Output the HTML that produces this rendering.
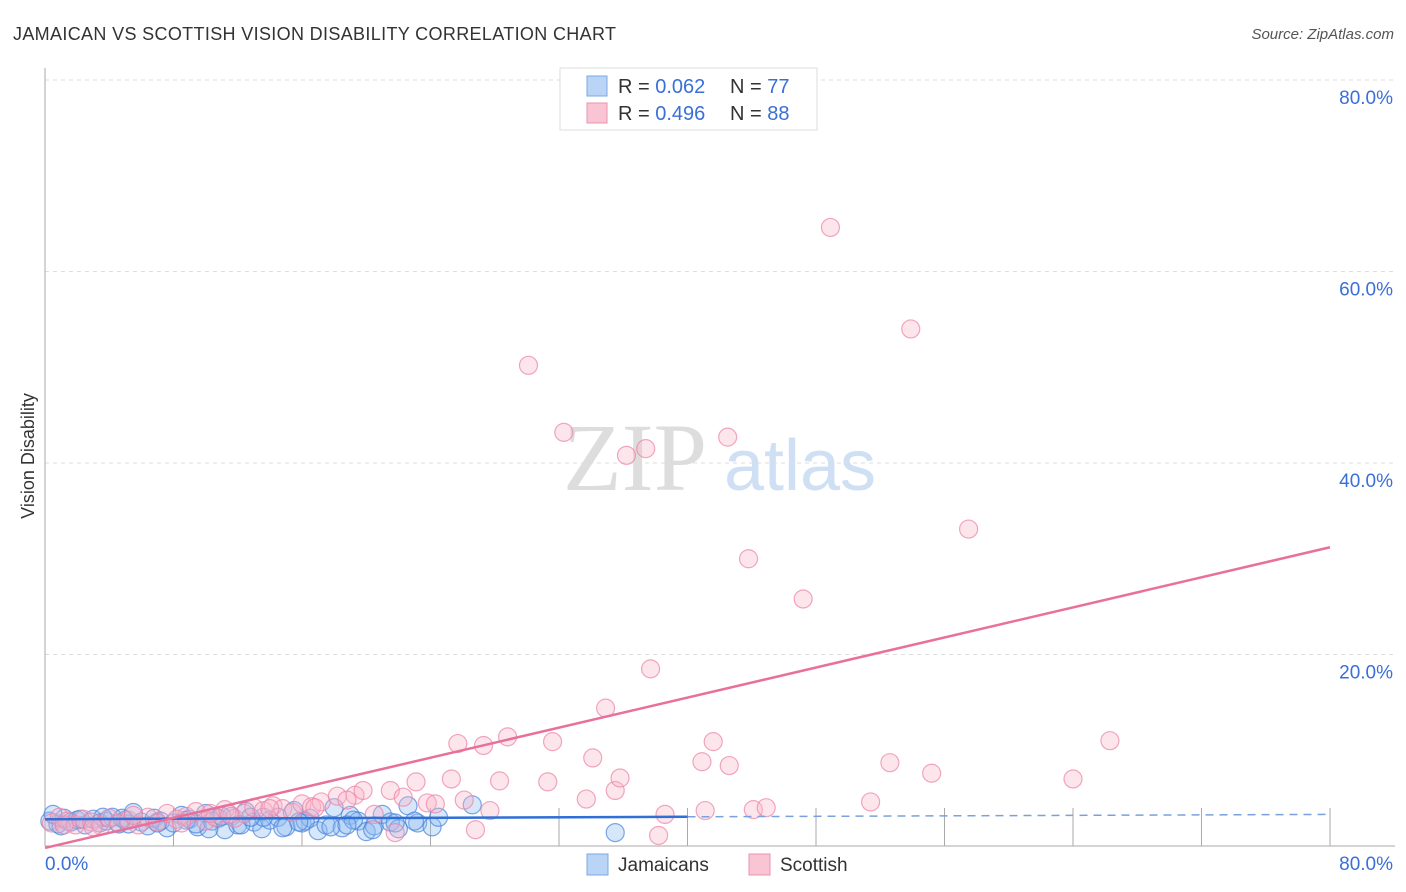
<!DOCTYPE html>
<html><head><meta charset="utf-8">
<style>
body{margin:0;background:#fff;font-family:"Liberation Sans",sans-serif;}
#wrap{position:relative;width:1406px;height:892px;overflow:hidden;}
</style></head>
<body>
<div id="wrap">
<svg id="svg" width="1406" height="892" xmlns="http://www.w3.org/2000/svg">
<text x="13" y="40" font-size="18" fill="#333" textLength="603">JAMAICAN VS SCOTTISH VISION DISABILITY CORRELATION CHART</text>
<text x="1394" y="39" font-size="15" fill="#555" font-style="italic" text-anchor="end">Source: ZipAtlas.com</text>
<text transform="translate(34,456) rotate(-90)" font-size="18" fill="#333" text-anchor="middle">Vision Disability</text>
<g>
<text x="635" y="490" font-size="96" fill="#ddd" font-family="Liberation Serif,serif" text-anchor="middle">ZIP</text>
<text x="800" y="490" font-size="72" fill="#cfe0f5" text-anchor="middle">atlas</text>
</g>
<g id="grid"></g>
<g id="axes"></g>
<g id="pts"></g>
<g id="trends"></g>
<g>
<rect x="560" y="68" width="257" height="62" fill="#fff" stroke="#ddd"/>
<rect x="587" y="76" width="20" height="20" fill="#b9d4f5" stroke="#7aa8e6"/>
<rect x="587" y="103" width="20" height="20" fill="#f9c4d3" stroke="#eb93ad"/>
<text x="618" y="93" font-size="20" fill="#333">R = <tspan fill="#3a6fd8">0.062</tspan></text>
<text x="730" y="93" font-size="20" fill="#333">N = <tspan fill="#3a6fd8">77</tspan></text>
<text x="618" y="120" font-size="20" fill="#333">R = <tspan fill="#3a6fd8">0.496</tspan></text>
<text x="730" y="120" font-size="20" fill="#333">N = <tspan fill="#3a6fd8">88</tspan></text>
</g>
<g>
<rect x="587" y="854" width="21" height="21" fill="#b9d4f5" stroke="#7aa8e6"/>
<text x="618" y="871" font-size="19" fill="#333">Jamaicans</text>
<rect x="749" y="854" width="21" height="21" fill="#f9c4d3" stroke="#eb93ad"/>
<text x="780" y="871" font-size="19" fill="#333">Scottish</text>
</g>
</svg>
</div>
<script>
const jamX=[0.3,0.8,1.2,1.6,2.0,2.5,3.0,3.4,3.8,4.2,4.6,5.0,5.5,6.0,6.4,6.8,7.2,7.6,8.0,8.5,9.0,9.5,10.0,10.4,10.8,11.2,11.6,12.0,12.5,13.0,13.5,14.0,14.5,15.0,15.5,16.0,16.5,17.0,17.5,18.0,18.5,19.0,19.5,20.0,20.5,21.0,21.5,22.0,22.6,23.2,24.1,24.5,26.6,35.5,1.0,2.2,3.6,5.2,7.0,8.8,10.2,11.0,12.2,13.6,14.8,16.2,17.8,19.2,20.4,21.8,23.0,4.8,9.4,12.8,15.8,18.8,0.5];
const jamY=[2.6,2.3,2.9,2.5,2.7,2.2,2.8,2.4,2.6,3.0,2.3,2.7,3.5,2.5,2.1,2.9,2.6,1.9,2.4,3.2,2.8,2.0,3.4,2.6,2.9,1.7,3.1,2.2,3.6,2.5,1.8,2.7,3.0,2.0,3.7,2.4,2.9,1.6,2.2,4.0,1.9,3.2,2.6,1.5,2.1,3.3,2.5,1.8,4.2,2.4,2.0,3.0,4.3,1.4,2.1,2.8,3.0,2.3,2.4,2.7,1.8,3.1,2.2,3.0,1.9,2.6,2.0,2.7,1.7,2.4,2.6,2.9,2.3,3.0,2.5,2.2,3.3];
const scoX=[0.4,0.9,1.4,1.9,2.4,2.9,3.5,4.0,4.6,5.2,5.8,6.4,7.0,7.6,8.2,8.8,9.4,10.0,10.6,11.2,11.8,12.4,13.0,13.6,14.2,14.8,15.4,16.0,16.6,17.2,18.2,19.3,19.8,21.5,22.3,23.1,23.8,24.3,21.8,26.8,25.3,26.1,27.7,25.7,27.3,28.8,28.3,31.3,31.6,30.1,32.3,33.7,34.1,35.5,35.8,34.9,36.2,37.4,37.7,38.6,38.2,41.1,40.9,41.6,42.5,42.6,43.8,44.1,44.9,47.2,48.9,51.4,52.6,53.9,55.2,57.5,64.0,66.3,1.2,3.0,5.5,8.5,11.5,14.0,16.8,18.8,20.5,10.3];
const scoY=[2.4,3.0,2.6,2.2,2.8,2.5,2.1,2.9,2.4,2.7,2.2,3.0,2.5,3.4,2.8,3.1,3.6,2.6,3.0,3.8,2.9,3.4,4.0,3.7,4.2,3.9,3.5,4.4,4.1,4.6,5.2,5.3,5.8,5.8,5.1,6.7,4.5,4.4,1.4,1.7,7.0,4.8,3.7,10.7,10.5,11.4,6.8,6.7,10.9,50.2,43.2,4.9,9.2,5.8,7.1,14.4,40.8,41.5,18.5,3.3,1.1,3.7,8.8,10.9,42.7,8.4,30.0,3.8,4.0,25.8,64.6,4.6,8.7,54.0,7.6,33.1,7.0,11.0,2.2,2.0,3.2,2.4,3.3,3.9,4.0,4.8,3.3,3.4];
const yTicks=[20,40,60,80];
const xTickLabels=["0.0%","80.0%"];
const jamTrend=[2.8,3.3];
const scoTrend=[-0.2,31.2];

const X0=45,X1=1330,Y0=846,Y80=80;
const xs=v=>X0+v*(X1-X0)/80;
const ys=v=>Y0-v*(Y0-Y80)/80;
const NS="http://www.w3.org/2000/svg";
function mk(tag,attrs,parent){const e=document.createElementNS(NS,tag);for(const k in attrs)e.setAttribute(k,attrs[k]);document.getElementById(parent).appendChild(e);return e;}

yTicks.forEach(t=>{
  const l=mk('line',{x1:X0,x2:1395,y1:ys(t),y2:ys(t),stroke:'#ddd','stroke-dasharray':'4,4'},'grid');
  
  
  const tx=mk('text',{x:1393,y:ys(t)+24,'font-size':19,fill:'#3a6fd8','text-anchor':'end'},'grid');
  tx.textContent=t.toFixed(1)+'%';
  
  
});
const ya=mk('line',{x1:X0,x2:X0,y1:68,y2:Y0,stroke:'#aaa'},'axes');


const xa=mk('line',{x1:X0,x2:1395,y1:Y0,y2:Y0,stroke:'#aaa'},'axes');


for(let i=1;i<=10;i++){
  const tk=mk('line',{x1:xs(i*8),x2:xs(i*8),y1:Y0,y2:Y0-38,stroke:'#aaa'},'axes');
  
  
}
const xl0=mk('text',{x:45,y:870,'font-size':19,fill:'#3a6fd8'},'axes');
xl0.textContent=xTickLabels[0];


const xl1=mk('text',{x:1393,y:870,'font-size':19,fill:'#3a6fd8','text-anchor':'end'},'axes');
xl1.textContent=xTickLabels[1];



jamX.forEach((v,i)=>{
  const c=mk('circle',{cx:xs(v),cy:ys(jamY[i]),r:9,fill:'rgba(140,185,240,0.35)',stroke:'rgba(70,130,220,0.7)','stroke-width':1.2},'pts');
  
  
});
scoX.forEach((v,i)=>{
  const c=mk('circle',{cx:xs(v),cy:ys(scoY[i]),r:9,fill:'rgba(248,180,200,0.35)',stroke:'rgba(235,130,165,0.7)','stroke-width':1.2},'pts');
  
  
});
const jm=v=>jamTrend[0]+(jamTrend[1]-jamTrend[0])*v/80;
const jt1=mk('line',{x1:xs(0),y1:ys(jm(0)),x2:xs(40),y2:ys(jm(40)),stroke:'#2f6fd6','stroke-width':2.5},'trends');


const jt2=mk('line',{x1:xs(40),y1:ys(jm(40)),x2:xs(80),y2:ys(jm(80)),stroke:'#7aa0dd','stroke-width':1.5,'stroke-dasharray':'8,6'},'trends');


const st=mk('line',{x1:xs(0),y1:ys(scoTrend[0]),x2:xs(80),y2:ys(scoTrend[1]),stroke:'#e8709a','stroke-width':2.5},'trends');


</script>
</body></html>
